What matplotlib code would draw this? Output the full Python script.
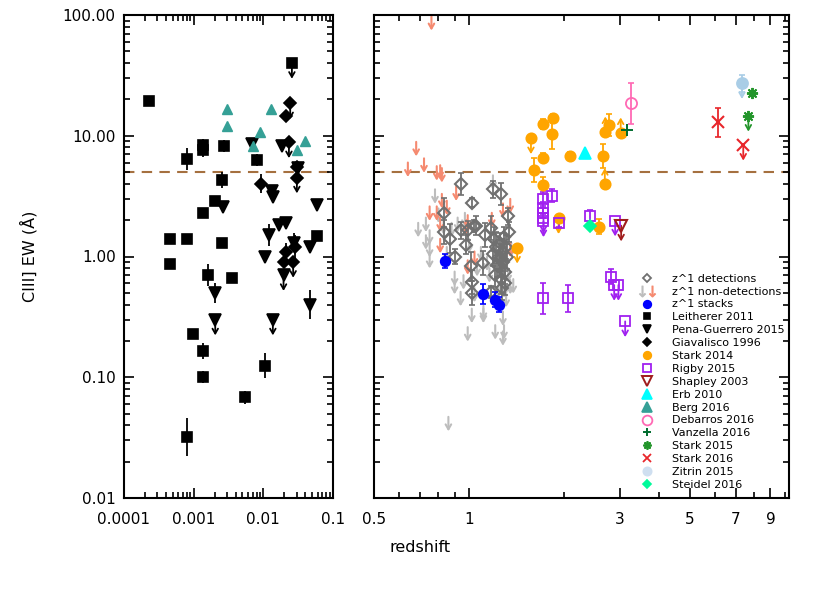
import numpy as np
import matplotlib.pyplot as plt
from matplotlib.lines import Line2D
from matplotlib.legend_handler import HandlerTuple
from matplotlib.ticker import FixedLocator, FixedFormatter, NullFormatter, FuncFormatter, LogLocator

# ---------------- left panel data (x = redshift, y = EW, err in dex, lim: 1 = upper limit) ----------------
leith_z = [0.00023, 0.00045, 0.0008, 0.0008, 0.00137, 0.00137, 0.00277, 0.008, 0.00251, 0.00204,
           0.00137, 0.00251, 0.058, 0.0257, 0.00045, 0.00163, 0.00353, 0.00098, 0.00137, 0.00137,
           0.0105, 0.0054, 0.0008]
leith_ew = [19.3, 1.40, 1.40, 6.4, 8.4, 7.6, 8.2, 6.3, 4.3, 2.9,
            2.3, 1.29, 1.48, 40.0, 0.87, 0.70, 0.67, 0.23, 0.165, 0.10,
            0.125, 0.068, 0.032]
leith_err = [0.03, 0.0, 0.0, 0.09, 0.05, 0.06, 0.05, 0.05, 0.07, 0.03,
             0.03, 0.02, 0.02, 0.0, 0.03, 0.09, 0.04, 0.03, 0.07, 0.05,
             0.10, 0.05, 0.16]
leith_lim = [0, 0, 0, 0, 0, 0, 0, 0, 0, 0, 0, 0, 0, 1, 0, 0, 0, 0, 0, 0, 0, 0, 0]

pena_z = [0.0069, 0.0186, 0.0317, 0.0135, 0.0137, 0.0026, 0.058, 0.0167, 0.0213, 0.012,
          0.0277, 0.0468, 0.0107, 0.0195, 0.0020, 0.00204, 0.0137, 0.047]
pena_ew = [8.6, 8.3, 5.4, 3.5, 3.1, 2.55, 2.65, 1.82, 1.9, 1.5,
           1.3, 1.2, 1.0, 0.70, 0.50, 0.30, 0.30, 0.40]
pena_err = [0.03, 0.03, 0.03, 0.03, 0.03, 0.03, 0.0, 0.0, 0.0, 0.09,
            0.08, 0.02, 0.02, 0.05, 0.08, 0.0, 0.0, 0.12]
pena_lim = [0, 0, 0, 0, 0, 0, 0, 0, 0, 0, 0, 0, 0, 1, 0, 1, 1, 0]

giav_z = [0.0243, 0.021, 0.0233, 0.0303, 0.0303, 0.0094, 0.021, 0.0286, 0.0195, 0.0268]
giav_ew = [18.5, 14.5, 8.8, 5.5, 4.5, 4.0, 1.08, 1.2, 0.90, 0.90]
giav_err = [0.0, 0.05, 0.0, 0.02, 0.0, 0.08, 0.08, 0.10, 0.04, 0.0]
giav_lim = [1, 0, 1, 0, 1, 0, 0, 0, 0, 1]

berg_z = [0.0030, 0.0030, 0.0129, 0.0090, 0.0070, 0.040, 0.030]
berg_ew = [16.8, 12.1, 16.8, 10.7, 8.3, 9.0, 7.6]

# ---------------- right panel data ----------------
det_z = [0.94, 1.19, 1.26, 1.02, 0.83, 1.33, 0.835, 0.87, 0.94, 0.99, 1.05, 1.12, 1.17, 0.98, 0.90,
         1.015, 1.11, 1.02, 1.02, 1.17, 1.04, 1.20, 1.22, 1.24, 1.25, 1.27, 1.28, 1.29, 1.30, 1.23,
         1.26, 1.31, 1.32, 1.19, 1.27, 1.34, 1.21, 1.25, 1.30]
det_ew = [4.0, 3.6, 3.3, 2.8, 2.3, 2.15, 1.6, 1.4, 1.65, 1.65, 1.8, 1.5, 1.72, 1.25, 1.0,
          0.83, 0.88, 0.61, 0.50, 0.51, 1.8, 1.4, 1.2, 1.0, 1.3, 1.1, 0.9, 1.45, 0.75, 0.85,
          0.65, 1.2, 1.0, 1.05, 0.55, 1.6, 0.7, 0.95, 0.6]
det_err = [0.09, 0.07, 0.09, 0.04, 0.12, 0.07, 0.10, 0.12, 0.07, 0.08, 0.08, 0.10, 0.10, 0.08, 0.06,
           0.12, 0.10, 0.10, 0.10, 0.05, 0.05, 0.10, 0.12, 0.10, 0.08, 0.10, 0.12, 0.08, 0.10, 0.10,
           0.12, 0.10, 0.10, 0.10, 0.10, 0.08, 0.10, 0.10, 0.10]

nondet_grey_z = [0.78, 0.73, 0.75, 0.75, 0.75, 1.19, 0.90, 1.11, 1.28, 0.99, 1.21, 1.29, 1.28, 0.86,
                 0.94, 1.11, 0.90, 0.80, 0.83, 0.88, 0.92, 0.97, 1.00, 1.06, 1.09, 1.14, 1.16, 1.24,
                 1.31, 1.33, 1.36, 1.38, 0.96, 1.04, 1.02, 0.85, 0.69, 0.73, 1.29, 1.35]
nondet_grey_ew = [3.6, 2.1, 1.65, 1.3, 1.05, 4.7, 0.75, 0.39, 0.35, 0.26, 0.27, 0.27, 0.24, 0.047,
                  0.51, 0.37, 0.64, 2.5, 2.0, 1.9, 2.1, 2.3, 1.4, 0.9, 1.2, 1.0, 0.8, 0.6,
                  0.5, 0.8, 1.3, 0.65, 0.7, 0.55, 0.37, 1.2, 1.9, 1.5, 0.6, 0.64]

nondet_coral_z = [0.76, 0.68, 0.64, 0.72, 0.79, 0.81, 0.82, 0.91, 0.82, 0.75, 0.79, 0.81, 0.85,
                  1.18, 1.28, 1.35, 0.81, 0.99, 1.04, 0.99, 1.35, 0.98]
nondet_coral_ew = [98.0, 8.9, 6.0, 6.5, 5.6, 5.7, 5.4, 3.8, 3.3, 2.6, 2.6, 2.1, 2.9,
                   2.3, 2.75, 3.0, 1.4, 2.2, 1.1, 0.93, 1.3, 2.0]

stack_z = [0.84, 1.11, 1.21, 1.24]
stack_ew = [0.92, 0.49, 0.44, 0.40]
stack_err = [0.06, 0.08, 0.06, 0.06]

stark14_z = [1.57, 1.72, 1.85, 1.83, 1.72, 2.08, 1.61, 1.72, 1.92, 1.42, 2.66, 2.69, 2.70, 2.77, 3.02, 2.57]
stark14_ew = [9.5, 12.5, 13.9, 10.3, 6.6, 6.8, 5.2, 3.9, 2.07, 1.18, 6.8, 4.0, 10.7, 12.3, 10.5, 1.77]
stark14_err = [0.0, 0.04, 0.04, 0.12, 0.04, 0.03, 0.10, 0.07, 0.0, 0.0, 0.10, 0.0, 0.0, 0.09, 0.0, 0.06]
stark14_lim = [1, 0, 0, 0, 0, 0, 0, 0, 1, 1, 0, 2, 2, 0, 2, 0]

rigby_z = [1.72, 1.83, 1.72, 1.72, 1.72, 1.72, 1.93, 2.41, 2.90, 1.72, 2.06, 2.81, 2.88, 2.97, 3.12]
rigby_ew = [3.0, 3.2, 2.5, 2.28, 2.1, 1.95, 1.88, 2.18, 1.98, 0.45, 0.45, 0.68, 0.58, 0.58, 0.29]
rigby_err = [0.06, 0.05, 0.05, 0.04, 0.0, 0.0, 0.03, 0.05, 0.0, 0.13, 0.11, 0.06, 0.0, 0.0, 0.0]
rigby_lim = [0, 0, 0, 0, 1, 1, 0, 0, 1, 0, 0, 0, 1, 1, 1]

shapley_z, shapley_ew = [3.03], [1.8]
erb_z, erb_ew = [2.33], [7.2]
steidel_z, steidel_ew = [2.42], [1.8]
vanzella_z, vanzella_ew = [3.16], [11.1]
debarros_z, debarros_ew, debarros_err = [3.25], [18.6], [0.17]
stark16_z, stark16_ew, stark16_err, stark16_lim = [6.15, 7.38], [12.9, 8.4], [0.12, 0.0], [0, 1]
stark15_z, stark15_ew, stark15_lim = [7.88, 7.66], [22.8, 14.6], [0, 1]
zitrin_z, zitrin_ew, zitrin_err = [7.31], [27.2], [0.07]

ew_cut = 5.0

# colours
c_det = '#707070'
c_grey = '#bdbdbd'
c_coral = '#f58a70'
c_orange = '#ffa500'
c_purple = '#a020f0'
c_shapley = '#a01c1c'
c_berg = '#35a096'


def limit_arrows(ax, x, y, color, direction=-1, dex=0.13, lw=1.3, zorder=3):
    for xi, yi in zip(x, y):
        ax.annotate('', xy=(xi, yi * 10 ** (direction * dex)), xytext=(xi, yi),
                    arrowprops=dict(arrowstyle='->,head_length=0.35,head_width=0.2',
                                    color=color, lw=lw, shrinkA=0, shrinkB=0),
                    zorder=zorder)


def points(ax, x, y, err, lim, marker, color, ms, mfc=None, mew=1.2, capsize=0, zorder=3, dex=0.13):
    x = np.asarray(x, float)
    y = np.asarray(y, float)
    err = np.asarray(err, float)
    lim = np.asarray(lim)
    m = err > 0
    if m.any():
        lo = y[m] - y[m] * 10 ** (-err[m])
        hi = y[m] * 10 ** err[m] - y[m]
        ax.errorbar(x[m], y[m], yerr=[lo, hi], fmt='none', ecolor=color, elinewidth=1.3,
                    capsize=capsize, capthick=1.2, zorder=zorder)
    limit_arrows(ax, x[lim == 1], y[lim == 1], color, -1, dex, zorder=zorder)
    limit_arrows(ax, x[lim == 2], y[lim == 2], color, 1, dex, zorder=zorder)
    ax.plot(x, y, ls='none', marker=marker, ms=ms, mfc=color if mfc is None else mfc,
            mec=color, mew=mew, zorder=zorder + 0.1)


fig = plt.figure(figsize=(8.3, 5.93), dpi=100)
ax1 = fig.add_axes([124 / 830, 95 / 593, 209 / 830, 483 / 593])
ax2 = fig.add_axes([374 / 830, 95 / 593, 415 / 830, 483 / 593])

# ---- left panel ----
points(ax1, leith_z, leith_ew, leith_err, leith_lim, 's', 'black', 6.5)
points(ax1, pena_z, pena_ew, pena_err, pena_lim, 'v', 'black', 8)
points(ax1, giav_z, giav_ew, giav_err, giav_lim, 'D', 'black', 6)
ax1.plot(berg_z, berg_ew, ls='none', marker='^', ms=7, color=c_berg, zorder=4)

# ---- right panel ----
limit_arrows(ax2, nondet_grey_z, nondet_grey_ew, c_grey, dex=0.12, lw=1.5, zorder=2)
limit_arrows(ax2, nondet_coral_z, nondet_coral_ew, c_coral, dex=0.12, lw=1.5, zorder=2)
points(ax2, det_z, det_ew, det_err, [0] * len(det_z), 'D', c_det, 6, mfc='none', mew=1.5, capsize=2.5)
points(ax2, stack_z, stack_ew, stack_err, [0] * len(stack_z), 'o', 'blue', 7, capsize=2.5, zorder=4)
points(ax2, stark14_z, stark14_ew, stark14_err, stark14_lim, 'o', c_orange, 7.5, capsize=2.5, zorder=4)
points(ax2, rigby_z, rigby_ew, rigby_err, rigby_lim, 's', c_purple, 6.5, mfc='none', mew=1.3, capsize=2.5, zorder=4)
points(ax2, shapley_z, shapley_ew, [0], [1], 'v', c_shapley, 9, mfc='none', mew=1.5, zorder=4)
points(ax2, erb_z, erb_ew, [0], [0], '^', 'cyan', 8, zorder=4)
points(ax2, steidel_z, steidel_ew, [0], [0], 'D', '#00fa9a', 6, zorder=4)
points(ax2, vanzella_z, vanzella_ew, [0], [0], '+', '#006b2e', 8, mew=1.4, zorder=4)
points(ax2, debarros_z, debarros_ew, debarros_err, [0], 'o', '#ff69b4', 8, mfc='none', mew=1.3, capsize=2.5, zorder=4)
points(ax2, stark16_z, stark16_ew, stark16_err, stark16_lim, 'x', '#e8262b', 8, mew=1.5, capsize=2.5, zorder=4)
points(ax2, stark15_z, stark15_ew, [0, 0], stark15_lim, (8, 2, 0), '#23952b', 8, mew=1.4, zorder=4)
points(ax2, zitrin_z, zitrin_ew, zitrin_err, [1], 'o', '#a9cde6', 8, capsize=2.5, zorder=4)

for ax in (ax1, ax2):
    ax.set_xscale('log')
    ax.set_yscale('log')
    ax.set_ylim(0.01, 100)
    ax.axhline(ew_cut, color='#a5703f', ls=(0, (5, 3.5)), lw=1.5, zorder=1)
    ax.tick_params(which='both', direction='in', top=True, right=True, width=1.2, labelsize=11)
    ax.tick_params(which='major', length=7)
    ax.tick_params(which='minor', length=4)
    ax.tick_params(axis='x', pad=10)
    ax.tick_params(axis='y', pad=6)
    for s in ax.spines.values():
        s.set_linewidth(1.5)
    ax.yaxis.set_major_locator(LogLocator(base=10, numticks=10))
    ax.yaxis.set_minor_locator(LogLocator(base=10, subs=np.arange(2, 10), numticks=20))

ax1.set_xlim(0.0001, 0.1)
ax1.xaxis.set_major_locator(FixedLocator([0.0001, 0.001, 0.01, 0.1]))
ax1.xaxis.set_major_formatter(FuncFormatter(lambda v, _: f'{v:g}'))
ax1.xaxis.set_minor_locator(LogLocator(base=10, subs=np.arange(2, 10), numticks=20))
ax1.xaxis.set_minor_formatter(NullFormatter())
ax1.yaxis.set_major_formatter(FuncFormatter(lambda v, _: f'{v:.2f}'))
ax1.yaxis.set_minor_formatter(NullFormatter())
ax1.set_ylabel('CIII] EW (Å)', fontsize=11.5)
ax1.yaxis.set_label_coords(-0.415, 0.5)

ax2.set_xlim(0.5, 10.3)
xt = [0.5, 1, 3, 5, 7, 9]
ax2.xaxis.set_major_locator(FixedLocator(xt))
ax2.xaxis.set_major_formatter(FixedFormatter([f'{v:g}' for v in xt]))
ax2.xaxis.set_minor_locator(FixedLocator([0.6, 0.7, 0.8, 0.9, 2, 4, 6, 8, 10]))
ax2.xaxis.set_minor_formatter(NullFormatter())
ax2.yaxis.set_major_formatter(NullFormatter())
ax2.yaxis.set_minor_formatter(NullFormatter())
fig.text(420 / 830, 1 - 548 / 593, 'redshift', ha='center', va='center', fontsize=11.5)

# ---- legend ----
def h(marker, color, ms=6, mfc=None, mew=1.2):
    return Line2D([], [], ls='none', marker=marker, ms=ms, color=color,
                  mfc=color if mfc is None else mfc, mec=color, mew=mew)

arrow_grey = h(r'$\downarrow$', c_grey, ms=8, mew=0.5)
arrow_coral = h(r'$\downarrow$', c_coral, ms=8, mew=0.5)
handles = [
    h('D', c_det, 4.5, mfc='none', mew=1.3),
    (arrow_grey, arrow_coral),
    h('o', 'blue', 5.5),
    h('s', 'black', 5),
    h('v', 'black', 6),
    h('D', 'black', 4),
    h('o', c_orange, 5.5),
    h('s', c_purple, 6, mfc='none', mew=1.3),
    h('v', c_shapley, 7, mfc='none', mew=1.4),
    h('^', 'cyan', 6.5),
    h('^', c_berg, 6.5),
    h('o', '#ff69b4', 7, mfc='none', mew=1.3),
    h('+', '#006b2e', 6, mew=1.4),
    h((8, 2, 0), '#23952b', 6, mew=1.3),
    h('x', '#e8262b', 6, mew=1.3),
    h('o', '#cfdff0', 6),
    h('D', '#00fa9a', 4),
]
labels = ['z^1 detections', 'z^1 non-detections', 'z^1 stacks', 'Leitherer 2011',
          'Pena-Guerrero 2015', 'Giavalisco 1996', 'Stark 2014', 'Rigby 2015', 'Shapley 2003',
          'Erb 2010', 'Berg 2016', 'Debarros 2016', 'Vanzella 2016', 'Stark 2015', 'Stark 2016',
          'Zitrin 2015', 'Steidel 2016']
ax2.legend(handles, labels, loc='upper left', bbox_to_anchor=(0.624, 0.476), frameon=False,
           fontsize=8, labelspacing=0.26, handlelength=1.6, handletextpad=1.37, borderpad=0,
           handler_map={tuple: HandlerTuple(ndivide=None, pad=0.2)})

fig.savefig('out.png', dpi=100)
